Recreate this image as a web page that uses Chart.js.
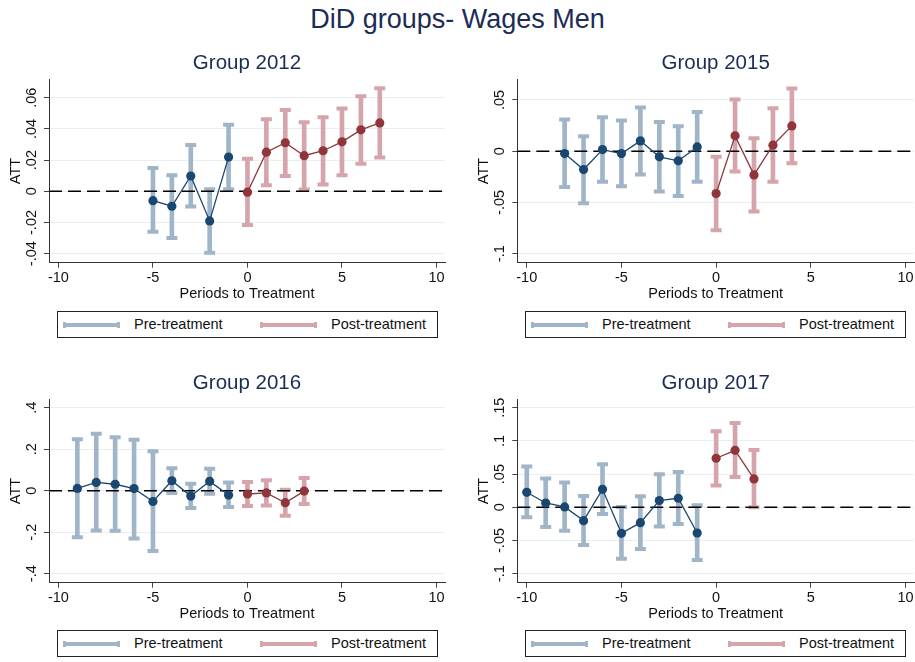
<!DOCTYPE html>
<html>
<head>
<meta charset="utf-8">
<script src="https://cdn.jsdelivr.net/npm/chart.js@4.4.1/dist/chart.umd.min.js"></script>
<style>
  body { margin: 0; background: #fff; font-family: "Liberation Sans", Arial, sans-serif; }
  #page { position: relative; width: 915px; height: 662px; overflow: hidden; }
  h1 { position: absolute; top: 4px; left: 0; width: 915px; margin: 0; text-align: center;
       font-size: 27px; line-height: 30px; font-weight: normal; color: #1c2c56; }
  canvas { position: absolute; }
  .legend { position: absolute; width: 381px; height: 27px; box-sizing: border-box;
            border: 1px solid #222; background: #fff; }
  .sym { position: absolute; top: 11px; height: 4px; width: 57px; }
  .sym::before, .sym::after { content: ""; position: absolute; top: -1px; width: 3px; height: 6px; background: inherit; }
  .sym::before { left: 0; }
  .sym::after { right: 0; }
  .lab { position: absolute; top: 0; line-height: 25px; font-size: 14.5px; color: #111; }
</style>
</head>
<body>
<div id="page">
  <h1>DiD groups- Wages Men</h1>
  <canvas id="g2012" width="457" height="270" style="left:0;top:40px"></canvas>
  <canvas id="g2015" width="458" height="270" style="left:457px;top:40px"></canvas>
  <canvas id="g2016" width="457" height="270" style="left:0;top:360px"></canvas>
  <canvas id="g2017" width="458" height="270" style="left:457px;top:360px"></canvas>
</div>
<script>
// periods to treatment, point estimates and confidence bounds
const periods2012 = [-5, -4, -3, -2, -1, 0, 1, 2, 3, 4, 5, 6, 7];
const att2012 = [-0.006, -0.0096, 0.0098, -0.019, 0.0219, -0.0006, 0.0251, 0.0311, 0.0228, 0.026, 0.0317, 0.0394, 0.0438];
const hi2012 = [0.0149, 0.0102, 0.0296, 0.0013, 0.0426, 0.0209, 0.0462, 0.0521, 0.0443, 0.0474, 0.053, 0.061, 0.066];
const lo2012 = [-0.026, -0.030, -0.0098, -0.0394, 0.0013, -0.0217, 0.0038, 0.0098, 0.0011, 0.0043, 0.0102, 0.0177, 0.0217];

const periods2015 = [-8, -7, -6, -5, -4, -3, -2, -1, 0, 1, 2, 3, 4];
const att2015 = [-0.0023, -0.0179, 0.0016, -0.0023, 0.0101, -0.0055, -0.0094, 0.0042, -0.0413, 0.015, -0.0231, 0.0059, 0.0247];
const hi2015 = [0.0309, 0.0146, 0.0332, 0.0299, 0.0426, 0.0286, 0.0244, 0.0384, -0.0055, 0.0504, 0.0127, 0.042, 0.0612];
const lo2015 = [-0.0348, -0.0507, -0.0299, -0.0342, -0.0228, -0.0394, -0.0436, -0.0299, -0.0771, -0.0198, -0.0589, -0.0299, -0.0117];

const periods2016 = [-9, -8, -7, -6, -5, -4, -3, -2, -1, 0, 1, 2, 3];
const att2016 = [0.011, 0.040, 0.031, 0.010, -0.052, 0.048, -0.026, 0.045, -0.021, -0.016, -0.011, -0.058, -0.002];
const hi2016 = [0.248, 0.274, 0.258, 0.246, 0.190, 0.108, 0.034, 0.106, 0.039, 0.042, 0.050, 0.005, 0.061];
const lo2016 = [-0.224, -0.192, -0.193, -0.230, -0.291, -0.011, -0.084, -0.015, -0.079, -0.074, -0.071, -0.121, -0.064];

const periods2017 = [-10, -9, -8, -7, -6, -5, -4, -3, -2, -1, 0, 1, 2];
const att2017 = [0.0226, 0.0065, 0.0005, -0.0201, 0.0271, -0.0392, -0.0231, 0.0101, 0.0136, -0.0387, 0.0739, 0.0859, 0.0427];
const hi2017 = [0.0613, 0.0432, 0.0372, 0.0171, 0.0648, 0.0005, 0.0166, 0.0497, 0.0533, 0.003, 0.1146, 0.1271, 0.0864];
const lo2017 = [-0.0151, -0.0296, -0.0352, -0.0568, -0.0101, -0.0774, -0.0628, -0.0291, -0.0251, -0.0794, 0.0327, 0.0457, 0.0];

// axis ticks
const xTicks = [-10, -5, 0, 5, 10];
const yTicks2012 = [-0.04, -0.02, 0, 0.02, 0.04, 0.06];
const yTicks2015 = [-0.1, -0.05, 0, 0.05];
const yTicks2016 = [-0.4, -0.2, 0, 0.2, 0.4];
const yTicks2017 = [-0.1, -0.05, 0, 0.05, 0.1, 0.15];

const legendLabels = ["Pre-treatment", "Post-treatment"];

const X_MIN = -10.5, X_MAX = 10.45;
const FONT = '"Liberation Sans", Arial, sans-serif';
const TITLE_COL = "#1c2c56";
const PRE_BAR = "#a1b5c8", PRE_DOT = "#1a476f";
const POST_BAR = "#d6a4ab", POST_DOT = "#90353b";
const GRID = "#e7eff1";

// stata style: .05, -.1, 0
function stataNum(v) {
  if (v === 0) return "0";
  return String(+v.toFixed(4)).replace("0.", ".");
}

// y tick labels, rotated like stata does
const rotatedYLabels = {
  id: "rotatedYLabels",
  afterDraw(chart) {
    const s = chart.scales.y;
    const ctx = chart.ctx;
    ctx.save();
    ctx.font = `14.5px ${FONT}`;
    ctx.fillStyle = "#111";
    ctx.textAlign = "center";
    ctx.textBaseline = "alphabetic";
    s.ticks.forEach((t) => {
      ctx.save();
      ctx.translate(s.right - 13, s.getPixelForValue(t.value));
      ctx.rotate(-Math.PI / 2);
      ctx.fillText(stataNum(t.value), 0, 0);
      ctx.restore();
    });
    ctx.restore();
  },
};

function drawPanel(id, title, periods, att, lo, hi, yMin, yMax, yTicks, rightCol) {
  const pre = [], post = [];
  periods.forEach((p, i) => (p < 0 ? pre : post).push(i));

  const pts = (idx) => idx.map((i) => ({ x: periods[i], y: att[i] }));
  const bars = (idx) => idx.map((i) => ({ x: periods[i], y: [lo[i], hi[i]] }));
  const caps = (idx) => idx.flatMap((i) => [{ x: periods[i], y: lo[i] }, { x: periods[i], y: hi[i] }]);

  const barDs = (data, color) => ({
    type: "bar", data, backgroundColor: color, barThickness: 4, grouped: false, order: 6,
  });
  const capDs = (data, color) => ({
    type: "line", data, showLine: false, pointStyle: "line", pointRadius: 5.5,
    pointBorderWidth: 4, borderColor: color, pointBorderColor: color, order: 5,
  });
  const lineDs = (data, color) => ({
    type: "line", data, borderColor: color, borderWidth: 1.3, pointRadius: 4.6,
    pointBackgroundColor: color, pointBorderWidth: 0, order: 1,
  });

  const axisFont = { family: FONT, size: 14.5 };

  return new Chart(document.getElementById(id), {
    type: "bar",
    data: {
      datasets: [
        barDs(bars(pre), PRE_BAR),
        barDs(bars(post), POST_BAR),
        capDs(caps(pre), PRE_BAR),
        capDs(caps(post), POST_BAR),
        {
          // reference line at zero
          type: "line",
          data: [{ x: X_MIN, y: 0 }, { x: X_MAX, y: 0 }],
          borderColor: "#000", borderWidth: 1.4, borderDash: [13, 6], pointRadius: 0, order: 4,
        },
        lineDs(pts(pre), PRE_DOT),
        lineDs(pts(post), POST_DOT),
      ],
    },
    options: {
      responsive: false,
      animation: false,
      events: [],
      layout: {
        autoPadding: false,
        padding: { left: rightCol ? 18.3 : 7, right: rightCol ? 1 : 12, top: 0, bottom: 7.3 },
      },
      plugins: {
        legend: { display: false },
        tooltip: { enabled: false },
        title: {
          display: true, text: title, fullSize: false, color: TITLE_COL,
          font: { family: FONT, size: 20.5, weight: "normal" },
          padding: { top: 11, bottom: 3.7 },
        },
      },
      scales: {
        x: {
          type: "linear", min: X_MIN, max: X_MAX, offset: false,
          afterBuildTicks: (s) => { s.ticks = xTicks.map((v) => ({ value: v })); },
          afterFit: (s) => {
            s.height = 40;
            s.paddingLeft = 0;
            s.paddingRight = 0;
          },
          grid: { offset: false, drawOnChartArea: false, tickLength: 5, tickColor: "#444" },
          border: { color: "#333", width: 1 },
          ticks: { color: "#111", font: axisFont, padding: 2, maxRotation: 0, callback: (v) => String(v) },
          title: { display: true, text: "Periods to Treatment", color: "#111", font: axisFont, padding: 0 },
        },
        y: {
          type: "linear", min: yMin, max: yMax,
          afterBuildTicks: (s) => { s.ticks = yTicks.map((v) => ({ value: v })); },
          afterFit: (s) => { s.width = 42; },
          grid: { color: GRID, lineWidth: 1, tickLength: 5, tickColor: "#444" },
          border: { color: "#333", width: 1 },
          ticks: { display: false },
          title: { display: true, text: "ATT", color: "#111", font: axisFont, padding: 0 },
        },
      },
    },
    plugins: [rotatedYLabels],
  });
}

function addLegend(left, top) {
  const box = document.createElement("div");
  box.className = "legend";
  box.style.left = left + "px";
  box.style.top = top + "px";
  const parts = [
    { cls: "sym", x: 5, color: PRE_BAR },
    { cls: "lab", x: 76, text: legendLabels[0] },
    { cls: "sym", x: 202, color: POST_BAR },
    { cls: "lab", x: 273, text: legendLabels[1] },
  ];
  parts.forEach((p) => {
    const el = document.createElement("span");
    el.className = p.cls;
    el.style.left = p.x + "px";
    if (p.color) el.style.background = p.color;
    if (p.text) el.textContent = p.text;
    box.appendChild(el);
  });
  document.getElementById("page").appendChild(box);
}

drawPanel("g2012", "Group 2012", periods2012, att2012, lo2012, hi2012, -0.0458, 0.0718, yTicks2012, false);
drawPanel("g2015", "Group 2015", periods2015, att2015, lo2015, hi2015, -0.1088, 0.0702, yTicks2015, true);
drawPanel("g2016", "Group 2016", periods2016, att2016, lo2016, hi2016, -0.4435, 0.4405, yTicks2016, false);
drawPanel("g2017", "Group 2017", periods2017, att2017, lo2017, hi2017, -0.1136, 0.1627, yTicks2017, true);

addLegend(57, 311);
addLegend(525, 311);
addLegend(57, 630);
addLegend(525, 630);
</script>
</body>
</html>
